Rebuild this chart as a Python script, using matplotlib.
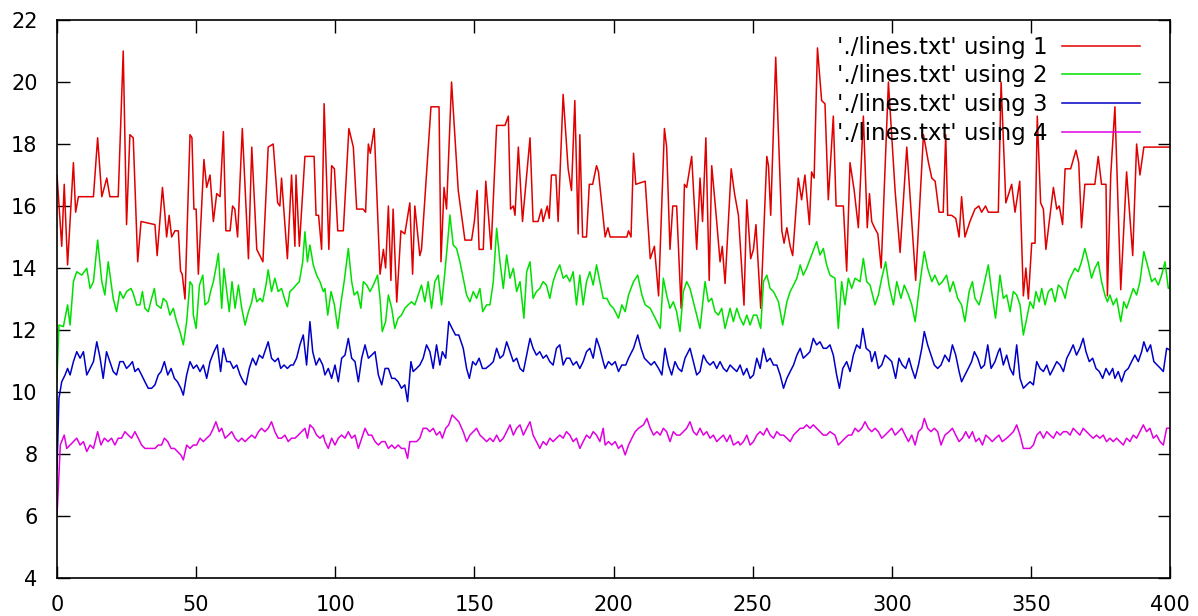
import numpy as np
import matplotlib
matplotlib.use("Agg")
import matplotlib.pyplot as plt

# values, (x, y) per vertex
red_pts = [
    (0, 17.0), (1.7, 14.7), (2.6, 16.7), (3.8, 14.1), (5.9, 17.4), (6.7, 15.8), (7.7, 16.3), (13.1, 16.3),
    (14.6, 18.2), (16.1, 16.3), (17.9, 16.9), (19, 16.3), (22, 16.3), (23.8, 21.0), (25, 15.4), (26.2, 18.3),
    (27.4, 18.2), (29, 14.2), (30.2, 15.5), (35.2, 15.4), (36, 14.4), (37.9, 16.6), (38.8, 15.7), (39.4, 15.0),
    (40.3, 15.7), (41.2, 15.0), (42.4, 15.2), (43.6, 15.2), (44.4, 13.9), (45, 13.8), (46, 13.0), (47.8, 18.3),
    (48.5, 18.2), (49.2, 15.9), (50, 15.9), (50.8, 13.8), (52.8, 17.5), (53.8, 16.6), (55, 17.0), (56.2, 15.5),
    (57.4, 16.4), (58.6, 16.3), (59.8, 18.4), (60.7, 15.2), (62.2, 15.2), (63.1, 16.0), (63.9, 15.9), (64.9, 15.0),
    (66.6, 18.5), (68.8, 14.3), (70, 17.9), (71.8, 14.6), (74, 14.2), (75.9, 17.9), (77.7, 18.0), (79.3, 16.1),
    (80.1, 16.0), (80.7, 16.9), (82.8, 14.3), (84.3, 17.0), (85.5, 14.7), (85.9, 17.0), (87.1, 14.7), (89.1, 17.6),
    (92.4, 17.6), (93.1, 15.7), (94, 15.7), (95.1, 14.6), (96, 19.3), (97.7, 14.6), (98.7, 17.3), (99.7, 17.2),
    (100.9, 15.2), (102.9, 15.2), (104.9, 18.5), (106.5, 17.9), (107.7, 15.9), (110, 15.9), (110.9, 15.8), (111.9, 18.0),
    (112.6, 17.7), (114, 18.5), (116.1, 13.8), (117.3, 14.6), (118.1, 14.0), (119.1, 16.0), (120, 13.6), (120.8, 15.9),
    (122.1, 12.9), (123.6, 15.2), (125, 15.1), (126.8, 16.1), (127.8, 13.8), (128.6, 16.0), (130.4, 14.4), (131, 14.6),
    (134.4, 19.2), (137.3, 19.2), (138, 14.2), (139.1, 16.6), (140, 15.9), (141.8, 20.0), (144.2, 16.5), (146.6, 14.9),
    (149, 14.9), (150, 15.5), (151, 16.5), (151.7, 14.6), (153.2, 14.6), (154.1, 16.8), (156, 14.6), (158, 18.6),
    (161, 18.6), (162.2, 18.9), (163, 15.9), (164, 16.0), (164.6, 15.7), (165.8, 17.9), (167.3, 15.5), (170, 18.2),
    (171.1, 15.5), (172.9, 15.5), (174.1, 15.9), (174.7, 15.5), (176.2, 16.0), (176.9, 15.6), (177.7, 17.0), (179.3, 17.0),
    (180.1, 15.5), (181.9, 19.6), (183.7, 17.2), (184.9, 16.5), (186.1, 19.4), (187.3, 15.1), (187.9, 18.3), (188.9, 15.0),
    (190.3, 15.0), (191.3, 16.7), (192.5, 16.7), (193.9, 17.3), (194.6, 17.1), (197, 15.0), (198, 15.3), (198.8, 15.0),
    (204.8, 15.0), (205.4, 15.2), (206.3, 15.0), (207.2, 17.7), (208, 16.7), (211.4, 16.8), (213.2, 14.3), (214.7, 14.7),
    (216.2, 13.1), (218.3, 18.5), (219.1, 17.9), (220.3, 14.6), (221.3, 16.0), (222.7, 16.0), (224.3, 12.7), (225.5, 16.7),
    (226.3, 16.6), (228.1, 17.6), (229.9, 14.6), (231.1, 16.9), (232, 15.5), (233.2, 18.2), (234.4, 13.6), (235.3, 17.3),
    (236.8, 15.8), (238.3, 14.2), (239.1, 14.7), (240.1, 13.5), (242.3, 17.2), (243.5, 16.4), (244.9, 15.7), (246.9, 12.8),
    (247.9, 16.2), (249.3, 14.3), (250.3, 14.6), (251.2, 15.4), (252.9, 12.7), (255.1, 17.6), (255.7, 17.3), (256.5, 15.7),
    (258.3, 20.8), (260.5, 15.2), (261.3, 14.8), (262.3, 15.3), (263.5, 14.7), (264.4, 14.4), (266.4, 16.9), (267.6, 16.2),
    (268.8, 17.0), (270.4, 15.4), (271.2, 17.1), (272.1, 16.9), (273.3, 21.1), (274.8, 19.4), (276, 19.3), (277.2, 16.2),
    (279, 18.9), (280, 16.0), (282.6, 16.0), (283.8, 13.9), (285, 17.4), (286.5, 16.5), (288, 15.3), (289.8, 18.9),
    (291.2, 15.3), (292, 16.4), (292.8, 15.5), (293.8, 15.3), (295, 15.1), (296.2, 14.0), (298.8, 20.0), (301.2, 16.5),
    (303, 14.5), (305.4, 17.9), (308.6, 13.6), (311.4, 18.3), (313.2, 17.4), (314.4, 16.9), (315.6, 16.8), (317, 15.8),
    (318.5, 15.8), (319.4, 18.3), (320.1, 15.7), (321.5, 15.7), (323, 15.6), (324.2, 15.0), (325.1, 16.3), (326.3, 15.0),
    (328.1, 15.5), (329.9, 15.9), (331.3, 16.0), (332.3, 15.8), (333.7, 16.0), (334.7, 15.8), (338.3, 15.8), (339.3, 20.0),
    (341, 16.1), (343.1, 16.7), (344.3, 15.8), (346, 16.8), (347.3, 13.1), (348.2, 14.0), (349.1, 13.0), (350.3, 14.8),
    (351.5, 14.8), (352.3, 18.9), (353.5, 16.1), (354.5, 15.9), (355.4, 14.6), (356.9, 15.7), (358.1, 16.6), (359.3, 15.9),
    (360.2, 16.0), (361.4, 15.4), (362.3, 17.2), (364.3, 17.2), (366.2, 17.8), (367.2, 17.4), (368.2, 15.3), (369.4, 16.7),
    (373, 16.7), (374.2, 17.6), (375.4, 16.7), (377, 16.7), (377.5, 13.1), (378.7, 17.0), (380.2, 19.2), (382.3, 13.3),
    (384.4, 17.1), (386.6, 14.4), (388, 18.0), (389.2, 17.0), (390.6, 17.9), (400, 17.9),
]

green_pts = [
    (0, 10.4), (0.7, 12.16), (2.3, 12.11), (3.8, 12.81), (4.7, 12.16), (5.9, 13.56), (7.1, 13.88), (8.9, 13.77),
    (10.7, 13.99), (11.9, 13.34), (13.1, 13.56), (14.6, 14.9), (16.1, 13.56), (17.2, 13.13), (18.4, 14.20), (20.2, 13.02),
    (21.4, 12.59), (22.6, 13.24), (23.8, 13.02), (25, 13.24), (26.6, 13.34), (27.4, 13.18), (28.6, 12.81), (29.8, 12.81),
    (30.7, 13.24), (31.6, 12.70), (32.8, 12.59), (34, 13.02), (35, 13.34), (35.8, 12.81), (37.4, 12.70), (38.2, 13.02),
    (39.4, 12.91), (40.6, 12.48), (41.8, 12.70), (43, 12.27), (44.2, 11.95), (45.4, 11.52), (46.6, 12.27), (47.8, 13.56),
    (48.6, 13.45), (49, 12.48), (50, 12.05), (51.2, 13.45), (52.4, 13.77), (53.2, 12.81), (54.4, 12.91), (55.2, 13.24),
    (56.2, 13.56), (57.1, 13.99), (58, 14.47), (59.2, 12.70), (60, 13.99), (61, 13.24), (61.9, 12.59), (62.9, 13.56),
    (64, 12.70), (65.2, 13.45), (66.4, 12.70), (67.6, 12.16), (68.8, 12.59), (70, 12.91), (70.8, 13.34), (71.8, 12.91),
    (73, 13.02), (73.9, 12.91), (75.1, 13.45), (75.9, 13.94), (77.1, 13.24), (78.3, 13.67), (79.5, 13.24), (80.7, 13.34),
    (81.9, 12.97), (82.8, 12.75), (83.7, 13.24), (84.9, 13.34), (85.9, 13.45), (87.1, 13.56), (88.3, 14.20), (89.1, 15.17),
    (90, 14.20), (90.9, 14.74), (92.1, 14.10), (93.3, 13.77), (94.5, 13.56), (95.7, 13.24), (96.3, 13.34), (97.3, 12.48),
    (98.5, 13.24), (99.7, 12.81), (100.9, 12.05), (102.1, 12.91), (103.2, 13.56), (104.7, 14.63), (105.9, 13.56), (106.8, 13.13),
    (108, 13.24), (109.2, 12.70), (110.1, 13.56), (111.3, 13.45), (112.5, 13.24), (113.7, 13.45), (115.2, 13.77), (116.1, 13.02),
    (116.9, 11.95), (118.1, 12.27), (119.1, 13.13), (120.3, 12.70), (121.4, 12.05), (122.6, 12.38), (123.8, 12.48), (125, 12.70),
    (126.2, 12.81), (127.4, 12.91), (128.6, 12.81), (129.8, 13.13), (131, 13.45), (132.2, 12.91), (133.4, 13.56), (134.6, 12.70),
    (135.8, 13.56), (137, 13.77), (138.2, 12.81), (139.2, 13.67), (140.4, 14.85), (141.2, 15.71), (142.4, 14.74), (143.6, 14.63),
    (144.8, 14.20), (146, 13.67), (147.2, 13.13), (148.4, 12.91), (149.6, 13.24), (150.8, 13.02), (152, 13.34), (153, 12.59),
    (154.4, 12.81), (155.6, 12.81), (156.8, 13.56), (158, 15.28), (159.2, 14.20), (160.4, 13.34), (161.6, 14.42), (162.8, 13.67),
    (164, 13.99), (165.2, 13.24), (166.4, 13.56), (167.8, 12.38), (168.8, 13.88), (170, 14.20), (171.1, 13.02), (172.3, 13.24),
    (173.5, 13.34), (174.7, 13.56), (175.9, 13.45), (177.1, 13.02), (178.3, 13.56), (179.5, 13.88), (180.7, 14.10), (181.9, 13.67),
    (183.1, 13.77), (184.3, 13.56), (185.5, 13.88), (186.7, 12.81), (187.9, 13.77), (189.1, 12.81), (190.3, 13.56), (191.5, 13.88),
    (192.7, 13.45), (193.9, 14.10), (195.1, 13.56), (196.3, 13.02), (197.6, 13.02), (198.8, 12.81), (200, 12.70), (201.8, 12.38),
    (203, 12.81), (204.2, 12.59), (205.4, 13.13), (207.2, 13.56), (208.7, 13.77), (210.2, 13.13), (211.4, 12.81), (213.2, 12.70),
    (215, 12.38), (216.8, 12.05), (217.9, 13.67), (219.1, 13.13), (220.3, 12.70), (221.5, 12.91), (222.7, 12.59), (223.9, 11.95),
    (225.1, 13.24), (226.3, 13.56), (227.5, 13.34), (229.3, 12.70), (231.1, 12.05), (232.9, 13.56), (234.1, 12.91), (235.3, 13.02),
    (236.5, 12.59), (237.7, 12.48), (238.9, 12.70), (240.1, 12.05), (241.3, 12.48), (241.9, 12.70), (243.1, 12.27), (244.3, 12.70),
    (245.5, 12.38), (246.7, 12.16), (247.9, 12.48), (249.1, 12.16), (250.3, 12.48), (251.5, 12.48), (252.9, 12.05), (253.9, 13.56),
    (255.1, 13.77), (256.3, 13.34), (257.5, 13.24), (259.3, 12.91), (260.8, 12.16), (262.3, 12.91), (263.5, 13.24), (264.7, 13.45),
    (265.9, 13.67), (267.1, 14.10), (268.2, 13.77), (269.4, 13.99), (271.2, 14.42), (273, 14.85), (274.2, 14.42), (275.4, 14.63),
    (276.6, 14.10), (277.8, 13.77), (279.6, 13.67), (280.8, 12.05), (282, 13.56), (283.2, 12.81), (284.4, 13.67), (285.6, 13.34),
    (286.8, 13.67), (288.6, 13.56), (289.8, 14.31), (291, 13.56), (292.2, 13.45), (292.8, 13.24), (294, 12.81), (295.2, 13.13),
    (296.4, 13.67), (297.8, 14.20), (299, 13.45), (300.6, 12.81), (301.8, 13.56), (303.3, 13.02), (304.5, 13.45), (306, 13.13),
    (307.2, 12.81), (308.4, 12.27), (310.2, 13.56), (311.7, 14.53), (312.9, 13.99), (314.4, 13.56), (315.5, 13.77), (317, 13.45),
    (318.2, 13.56), (319.7, 13.77), (320.9, 13.24), (322.1, 13.56), (323.7, 13.02), (325.1, 12.81), (326.3, 12.27), (327.8, 13.24),
    (329, 13.56), (329.9, 13.02), (331.4, 12.81), (332.6, 13.24), (334.7, 14.10), (335.9, 13.24), (337.3, 12.38), (338.9, 13.77),
    (340.1, 13.02), (341.3, 13.13), (342.5, 12.59), (343.7, 13.24), (344.9, 13.13), (346.1, 12.81), (347.3, 11.84), (348.5, 12.38),
    (349.7, 12.91), (350.9, 12.70), (351.8, 13.24), (353, 12.91), (353.9, 13.34), (355.1, 12.81), (356.3, 13.24), (357.5, 13.34),
    (358.7, 12.91), (359.9, 13.45), (361.1, 13.34), (362.3, 13.02), (363.5, 13.56), (364.6, 13.77), (365.8, 13.99), (367, 13.88),
    (368.2, 14.20), (369.4, 14.63), (370.6, 14.20), (371.8, 13.67), (373, 13.99), (374.2, 14.20), (375.4, 13.56), (376.6, 13.13),
    (377.5, 12.91), (378.4, 13.13), (379.6, 12.81), (380.8, 13.02), (382.3, 12.27), (383.4, 12.91), (384.4, 12.70), (385.6, 13.02),
    (386.8, 13.34), (388, 13.13), (389.2, 13.56), (390.6, 14.53), (392.2, 13.99), (393.4, 13.56), (394.6, 13.67), (395.8, 13.45),
    (397, 13.77), (398.2, 14.20), (399.4, 13.34), (400, 13.4),
]

blue_pts = [
    (0, 7.5), (0.7, 9.80), (1.7, 10.33), (2.9, 10.55), (3.8, 10.76), (4.7, 10.55), (5.9, 10.98), (7.1, 11.30),
    (8.3, 11.09), (9.5, 11.30), (10.7, 10.55), (11.9, 10.76), (13.1, 10.98), (14.3, 11.62), (15.5, 11.09), (16.6, 10.44),
    (17.8, 11.30), (19, 10.98), (20.2, 10.66), (21.4, 10.55), (22.6, 10.98), (23.8, 10.98), (25, 10.76), (26.2, 10.87),
    (27.1, 10.98), (28, 10.66), (29.2, 10.76), (30.4, 10.55), (31.6, 10.33), (32.8, 10.12), (34, 10.12), (35.2, 10.23),
    (36.4, 10.55), (37.4, 10.66), (38.6, 10.98), (39.8, 10.55), (41, 10.76), (42.2, 10.44), (43.3, 10.33), (44.5, 10.12),
    (45.4, 9.90), (46.6, 10.55), (47.8, 10.98), (49, 10.76), (50.2, 10.87), (51.4, 10.66), (52.6, 10.87), (53.8, 10.44),
    (55, 10.98), (56.4, 11.30), (57.6, 11.52), (58.8, 10.66), (59.8, 11.41), (61, 10.98), (62.2, 10.98), (63.4, 10.76),
    (64.6, 10.87), (65.8, 10.55), (67, 10.33), (67.9, 10.23), (69.1, 10.76), (70.3, 11.09), (71.5, 10.87), (72.7, 11.19),
    (73.9, 11.09), (75.1, 11.41), (75.9, 11.62), (77.1, 11.09), (78.3, 10.98), (79.5, 11.09), (80.4, 10.76), (81.6, 10.87),
    (82.8, 10.76), (84, 10.87), (84.9, 10.87), (86.1, 11.09), (87.3, 11.52), (88.5, 11.84), (89.7, 10.87), (90.9, 12.27),
    (91.9, 11.30), (93.1, 10.87), (94.3, 11.09), (95.5, 10.87), (96.3, 10.55), (97.5, 10.76), (98.7, 10.44), (99.9, 10.87),
    (101.1, 10.33), (102.3, 11.09), (103.5, 11.19), (104.7, 11.73), (105.9, 11.09), (107.1, 10.98), (108.3, 10.33), (109.5, 11.09),
    (110.7, 11.52), (111.9, 11.09), (113.1, 11.19), (114.3, 11.30), (115.5, 10.55), (116.7, 10.23), (117.9, 10.76), (119.1, 10.76),
    (120.3, 10.44), (121.4, 10.44), (122.6, 10.33), (123.8, 10.12), (125, 10.23), (126, 9.69), (127.2, 10.98), (128, 10.66),
    (129.2, 10.76), (130.4, 10.87), (131.6, 11.09), (132.8, 11.52), (134, 11.30), (135.2, 10.76), (136.4, 11.52), (137.6, 10.87),
    (138.5, 11.30), (139.7, 11.09), (140.8, 12.27), (142, 12.05), (143.2, 11.84), (144.4, 11.84), (146, 11.41), (147.2, 10.76),
    (148.2, 10.44), (149.4, 10.98), (150.5, 10.87), (151.7, 11.09), (152.9, 10.76), (154.1, 10.76), (155.6, 10.87), (156.8, 10.98),
    (158, 11.41), (159.2, 11.09), (160.4, 11.19), (161.6, 11.62), (162.8, 11.30), (164, 10.98), (165.2, 11.09), (166.4, 10.76),
    (167.6, 10.66), (168.8, 11.19), (170, 11.73), (171.1, 11.41), (172.3, 11.19), (173.5, 11.30), (174.7, 11.09), (175.9, 11.19),
    (177.1, 10.98), (178.3, 10.87), (179.5, 11.41), (180.7, 11.52), (181.9, 10.87), (183.1, 11.09), (184.3, 11.09), (185.5, 10.87),
    (186.7, 10.98), (187.9, 10.76), (189.1, 10.98), (190.3, 11.30), (191.5, 11.41), (192.7, 11.09), (193.9, 11.73), (195.1, 11.41),
    (196.3, 10.98), (197, 10.76), (198.2, 10.98), (199.4, 10.87), (200.6, 10.98), (201.8, 10.66), (203, 10.87), (204.4, 10.87),
    (205.4, 11.09), (207.2, 11.41), (208.7, 11.84), (209.9, 11.41), (211.1, 11.09), (212.3, 10.98), (213.5, 10.87), (214.7, 10.98),
    (216.2, 10.76), (217.4, 10.55), (218.5, 11.41), (219.7, 10.87), (220.9, 10.55), (222.1, 10.98), (223.3, 10.76), (224.5, 10.66),
    (225.7, 11.09), (227.5, 11.41), (228.7, 10.98), (229.9, 10.55), (231.1, 10.66), (232.3, 11.19), (233.5, 10.98), (234.7, 10.87),
    (235.9, 10.98), (237.1, 10.76), (238.3, 10.98), (239.5, 10.76), (240.7, 10.66), (241.9, 10.87), (243.1, 10.76), (244.3, 10.66),
    (245.5, 10.87), (246.7, 10.55), (247.9, 10.76), (249.1, 10.44), (250.3, 10.55), (251.5, 11.09), (252.7, 10.76), (253.9, 11.41),
    (255.1, 10.98), (256.3, 11.09), (257.5, 10.87), (258.7, 10.87), (259.9, 10.55), (261.1, 10.12), (262.3, 10.44), (263.5, 10.66),
    (264.7, 10.87), (265.9, 11.19), (267.1, 11.41), (268.2, 11.09), (269.4, 11.19), (270.6, 11.30), (271.8, 11.73), (273, 11.52),
    (274.2, 11.62), (275.4, 11.41), (276.6, 11.41), (277.8, 11.52), (279, 11.19), (280.2, 10.55), (281.2, 10.12), (282.4, 10.76),
    (283.8, 10.98), (285, 10.66), (286.2, 11.19), (287.4, 11.52), (288.6, 11.41), (289.6, 12.05), (290.8, 11.41), (292.2, 11.30),
    (292.8, 10.98), (294, 11.30), (295.2, 10.76), (296.4, 10.87), (297.6, 11.19), (298.8, 11.09), (300, 10.98), (301.4, 10.44),
    (302.6, 11.09), (303.8, 10.87), (305, 10.76), (306.2, 11.09), (307.2, 10.76), (308.4, 10.44), (309.6, 10.87), (310.8, 11.41),
    (311.7, 11.95), (312.9, 11.52), (314.1, 11.19), (315.3, 10.87), (316.5, 10.76), (317.7, 10.87), (319.1, 11.19), (320.6, 10.98),
    (321.8, 11.52), (323, 11.19), (324.2, 10.66), (325.1, 10.33), (326.3, 10.55), (327.5, 10.76), (328.7, 10.98), (329.7, 11.30),
    (330.9, 11.09), (332.1, 10.76), (333.3, 10.87), (334.5, 11.52), (335.7, 10.76), (337.1, 10.98), (338.3, 11.30), (338.9, 11.41),
    (340.1, 10.87), (341.3, 11.19), (342.5, 10.76), (343.7, 10.55), (344.9, 11.52), (346.1, 10.44), (347.3, 10.12), (348.5, 10.23),
    (349.7, 10.33), (350.9, 10.23), (352.1, 10.98), (353.3, 10.76), (354.5, 10.66), (355.7, 10.87), (356.9, 10.55), (358.1, 10.76),
    (359.3, 10.98), (360.5, 10.87), (361.7, 10.66), (362.9, 11.09), (364.1, 11.30), (365.2, 11.52), (366.4, 11.19), (367.6, 11.41),
    (368.8, 11.73), (369.8, 11.30), (371, 10.98), (372.2, 11.09), (373.4, 10.76), (374.6, 10.66), (375.8, 10.44), (377, 10.76),
    (378.2, 10.55), (379.4, 10.76), (380.2, 10.44), (381.4, 10.66), (382.6, 10.33), (383.8, 10.66), (385, 10.76), (386.2, 10.98),
    (387.4, 11.19), (388.6, 10.98), (389.8, 11.30), (390.6, 11.62), (391.8, 11.30), (393, 11.52), (394.2, 10.98), (395.4, 10.87),
    (396.6, 10.76), (397.6, 10.66), (398.8, 11.41), (400, 11.35),
]

magenta_pts = [
    (0, 6.0), (1.2, 8.3), (2.6, 8.61), (3.5, 8.18), (4.7, 8.29), (5.9, 8.40), (7.1, 8.51), (8.3, 8.29),
    (9.5, 8.40), (10.7, 8.08), (11.9, 8.29), (13.1, 8.18), (14.6, 8.72), (15.8, 8.29), (17, 8.51), (18.4, 8.40),
    (19.6, 8.51), (20.8, 8.29), (22, 8.51), (23.2, 8.51), (24.4, 8.72), (25.6, 8.61), (26.8, 8.51), (28, 8.72),
    (29.2, 8.51), (30.4, 8.29), (31.6, 8.18), (32.8, 8.18), (34, 8.18), (35.2, 8.18), (36.4, 8.29), (37.6, 8.29),
    (38.6, 8.51), (39.8, 8.40), (41, 8.18), (42.2, 8.18), (43.3, 8.08), (44.5, 7.97), (45.4, 7.81), (46.6, 8.29),
    (47.8, 8.18), (49, 8.29), (50.2, 8.29), (51.4, 8.51), (52.6, 8.40), (53.8, 8.51), (55, 8.61), (56.2, 8.83),
    (57.1, 9.04), (58.3, 8.72), (59.2, 8.83), (60.4, 8.51), (61.6, 8.61), (62.8, 8.72), (64, 8.51), (65.2, 8.40),
    (66.4, 8.51), (67.6, 8.40), (68.8, 8.51), (70, 8.61), (71.2, 8.51), (72.4, 8.72), (73.5, 8.83), (74.7, 8.72),
    (75.9, 8.83), (77.1, 9.04), (78.3, 8.72), (79.5, 8.51), (80.7, 8.51), (81.9, 8.61), (83.1, 8.40), (84.3, 8.51),
    (85.5, 8.51), (86.7, 8.61), (87.9, 8.72), (89.1, 8.83), (90, 8.51), (90.9, 8.94), (92.1, 8.83), (93.3, 8.61),
    (94.5, 8.51), (95.7, 8.61), (96.3, 8.40), (97.5, 8.18), (98.7, 8.51), (99.9, 8.29), (101.1, 8.51), (102.3, 8.61),
    (103.5, 8.51), (104.7, 8.72), (105.9, 8.51), (107.1, 8.61), (108.3, 8.18), (109.5, 8.51), (110.7, 8.83), (111.9, 8.61),
    (113.1, 8.61), (114.3, 8.40), (115.5, 8.29), (116.7, 8.40), (117.9, 8.40), (119.1, 8.18), (120.3, 8.29), (121.4, 8.18),
    (122.6, 8.29), (123.8, 8.18), (125, 8.18), (126, 7.86), (126.8, 8.40), (128, 8.40), (129.2, 8.40), (130.4, 8.51),
    (131.6, 8.83), (132.8, 8.83), (134, 8.72), (135.2, 8.83), (136.4, 8.61), (137.6, 8.72), (138.5, 8.51), (139.7, 8.83),
    (140.8, 8.94), (142, 9.26), (143.2, 9.15), (144.4, 9.04), (146, 8.72), (147.2, 8.40), (148.4, 8.61), (149.6, 8.72),
    (150.8, 8.83), (152, 8.61), (153.2, 8.51), (154.4, 8.40), (155.6, 8.51), (156.8, 8.40), (158, 8.61), (159.2, 8.40),
    (160.4, 8.51), (161.6, 8.72), (162.8, 8.94), (164, 8.61), (165.2, 8.83), (166.4, 8.94), (167.6, 8.61), (168.8, 8.83),
    (170, 9.04), (171.1, 8.61), (172.3, 8.40), (173.5, 8.18), (174.7, 8.40), (175.9, 8.29), (177.1, 8.51), (178.3, 8.40),
    (179.5, 8.51), (180.7, 8.61), (181.9, 8.51), (183.1, 8.72), (184.3, 8.61), (185.5, 8.40), (186.7, 8.51), (187.9, 8.18),
    (189.1, 8.40), (190.3, 8.61), (191.5, 8.51), (192.7, 8.72), (193.9, 8.61), (195.1, 8.40), (196.3, 8.83), (197, 8.29),
    (198.2, 8.40), (199.4, 8.29), (200.6, 8.40), (201.8, 8.18), (203, 8.29), (204.2, 7.97), (205.4, 8.29), (206.6, 8.51),
    (207.8, 8.72), (209, 8.83), (210.8, 8.94), (212, 9.15), (213.2, 8.83), (214.4, 8.61), (215.6, 8.72), (216.8, 8.61),
    (217.9, 8.83), (219.1, 8.72), (220.3, 8.40), (221.5, 8.72), (222.7, 8.61), (223.9, 8.61), (225.1, 8.72), (226.3, 8.83),
    (227.5, 9.04), (228.7, 8.72), (229.9, 8.61), (231.1, 8.83), (232.3, 8.61), (233.5, 8.72), (234.7, 8.51), (235.9, 8.61),
    (237.1, 8.40), (238.3, 8.51), (239.5, 8.61), (240.7, 8.40), (241.9, 8.61), (243.1, 8.29), (244.9, 8.40), (245.5, 8.29),
    (246.7, 8.40), (247.9, 8.61), (249.1, 8.29), (250.3, 8.40), (251.5, 8.61), (252.7, 8.72), (253.9, 8.61), (255.1, 8.83),
    (256.3, 8.61), (257.5, 8.51), (258.7, 8.72), (259.9, 8.61), (261.1, 8.61), (262.3, 8.51), (263.5, 8.40), (264.7, 8.61),
    (265.9, 8.72), (267.1, 8.83), (268.2, 8.83), (269.4, 8.94), (270.6, 8.83), (271.8, 8.94), (273, 8.83), (274.2, 8.72),
    (275.4, 8.61), (276.6, 8.61), (277.8, 8.72), (279.6, 8.61), (280.8, 8.29), (282, 8.40), (283.2, 8.51), (284.4, 8.61),
    (285.6, 8.61), (286.8, 8.83), (288, 8.72), (289.2, 8.83), (290.4, 9.04), (291.6, 8.83), (292.8, 8.72), (294, 8.83),
    (295.2, 8.72), (296.4, 8.51), (297.6, 8.61), (298.8, 8.72), (300, 8.83), (301.2, 8.61), (302.4, 8.72), (303.6, 8.83),
    (304.8, 8.61), (306, 8.40), (307.2, 8.61), (308.4, 8.29), (309.6, 8.72), (310.8, 8.83), (311.7, 9.15), (312.9, 8.83),
    (314.1, 8.72), (315.3, 8.83), (316.5, 8.72), (317.7, 8.29), (319.1, 8.61), (320.6, 8.72), (321.8, 8.83), (323, 8.61),
    (324.2, 8.40), (325.4, 8.51), (326.6, 8.72), (327.8, 8.51), (329, 8.72), (330.2, 8.40), (331.4, 8.51), (332.6, 8.29),
    (333.8, 8.61), (335, 8.51), (336.1, 8.40), (337.3, 8.51), (338.5, 8.61), (339.7, 8.40), (341.3, 8.51), (342.5, 8.61),
    (343.7, 8.72), (344.9, 8.94), (346.1, 8.61), (347.3, 8.18), (348.5, 8.18), (349.7, 8.18), (350.9, 8.29), (352.1, 8.61),
    (353.3, 8.72), (354.5, 8.51), (355.7, 8.72), (356.9, 8.61), (358.1, 8.51), (359.3, 8.72), (360.5, 8.61), (361.7, 8.72),
    (362.9, 8.72), (364.1, 8.61), (365.2, 8.83), (366.4, 8.72), (367.6, 8.61), (368.8, 8.83), (370, 8.72), (371.2, 8.61),
    (372.4, 8.51), (373.6, 8.61), (374.8, 8.51), (376, 8.61), (377.2, 8.40), (378.4, 8.51), (379.6, 8.40), (380.8, 8.51),
    (382, 8.40), (383.2, 8.29), (384.4, 8.51), (385.6, 8.40), (386.8, 8.61), (388, 8.51), (389.2, 8.72), (390.4, 8.94),
    (391.6, 8.72), (392.8, 8.83), (394, 8.51), (395.2, 8.61), (396.4, 8.40), (397.6, 8.29), (398.8, 8.83), (400, 8.83),
]

labels = ["'./lines.txt' using 1", "'./lines.txt' using 2", "'./lines.txt' using 3", "'./lines.txt' using 4"]
colors = ["#e00000", "#00e000", "#0000c8", "#e000e0"]
x_ticks = [0, 50, 100, 150, 200, 250, 300, 350, 400]
y_ticks = [4, 6, 8, 10, 12, 14, 16, 18, 20, 22]

fig = plt.figure(figsize=(11.98, 6.16), dpi=100)
ax = fig.add_axes([57 / 1198, 38 / 616, 1113 / 1198, 558 / 616])

for pts, lab, col in zip([red_pts, green_pts, blue_pts, magenta_pts], labels, colors):
    xs, ys = np.array(pts).T
    ax.plot(xs, ys, color=col, lw=1.1, label=lab)

ax.set_xlim(0, 400)
ax.set_ylim(4, 22)
ax.set_xticks(x_ticks)
ax.set_yticks(y_ticks)
ax.tick_params(direction="in", length=9, width=1, top=True, right=True, labelsize=15, colors="black")
ax.tick_params(axis="y", pad=14)
ax.tick_params(axis="x", pad=12)
for s in ax.spines.values():
    s.set_linewidth(1.2)

ax.legend(loc="upper right", bbox_to_anchor=(0.973, 0.972), frameon=False, markerfirst=False,
          fontsize=16.5, handlelength=3.4, handletextpad=0.65, labelspacing=0.25, borderpad=0, borderaxespad=0)

fig.savefig("out.png", dpi=100)
